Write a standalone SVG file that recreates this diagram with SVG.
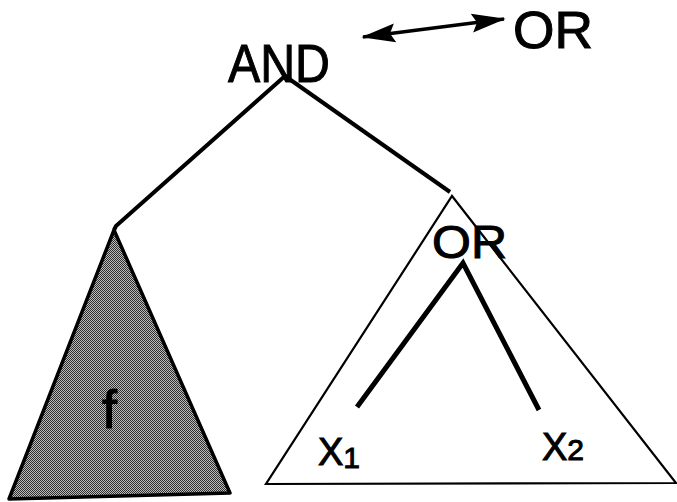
<svg xmlns="http://www.w3.org/2000/svg" width="677" height="502" viewBox="0 0 677 502">
<defs>
<style>
.t{font-family:"Liberation Sans",Arial,sans-serif;fill:#000;stroke:#000;stroke-width:1}
.edge{stroke:#000;stroke-width:4;fill:none;stroke-linecap:butt}
.thin{stroke:#000;stroke-width:2.2;fill:none}
</style>
<pattern id="dither" width="2" height="2" patternUnits="userSpaceOnUse">
<rect width="2" height="2" fill="#bdbdbd"/>
<rect width="1" height="1" fill="#2e2e2e"/>
<rect x="1" y="1" width="1" height="1" fill="#2e2e2e"/>
</pattern>
<marker id="ah" viewBox="0 0 10 10" refX="9.5" refY="5" markerWidth="10" markerHeight="10" markerUnits="strokeWidth" orient="auto-start-reverse">
<path d="M0,2.2 L10,5 L0,7.8 L1.5,5 Z" fill="#000"/>
</marker>
</defs>
<rect width="677" height="502" fill="#fff"/>
<g id="connectors">
<path class="edge" d="M285,76 L116,226 L114,230"/>
<path class="edge" d="M285,76 L450,192"/>
<line x1="363" y1="37" x2="504" y2="19" stroke="#000" stroke-width="3.4" marker-start="url(#ah)" marker-end="url(#ah)"/>
<path d="M357,407 L463,263 L539,410" stroke="#000" stroke-width="5" fill="none"/>
</g>
<g id="and">
<text class="t" x="228" y="82" font-size="54" textLength="102" lengthAdjust="spacingAndGlyphs">AND</text>
</g>
<g id="or-top">
<text class="t" x="513" y="48" font-size="52" textLength="80" lengthAdjust="spacingAndGlyphs">OR</text>
</g>
<g id="f-tree">
<polygon points="114,230 230,493 9,499" fill="url(#dither)" stroke="#000" stroke-width="3.5" stroke-linejoin="round"/>
<text class="t" x="102" y="428" font-size="54">f</text>
</g>
<g id="or-tree">
<polygon points="452,196 676,483 266,484" class="thin"/>
<text class="t" x="432" y="258" font-size="46" textLength="75" lengthAdjust="spacingAndGlyphs">OR</text>
</g>
<g id="x1">
<text class="t" x="318" y="465" font-size="38">X<tspan font-size="30" dy="3">1</tspan></text>
</g>
<g id="x2">
<text class="t" x="542" y="460" font-size="38">X<tspan font-size="30" dy="0">2</tspan></text>
</g>
</svg>
